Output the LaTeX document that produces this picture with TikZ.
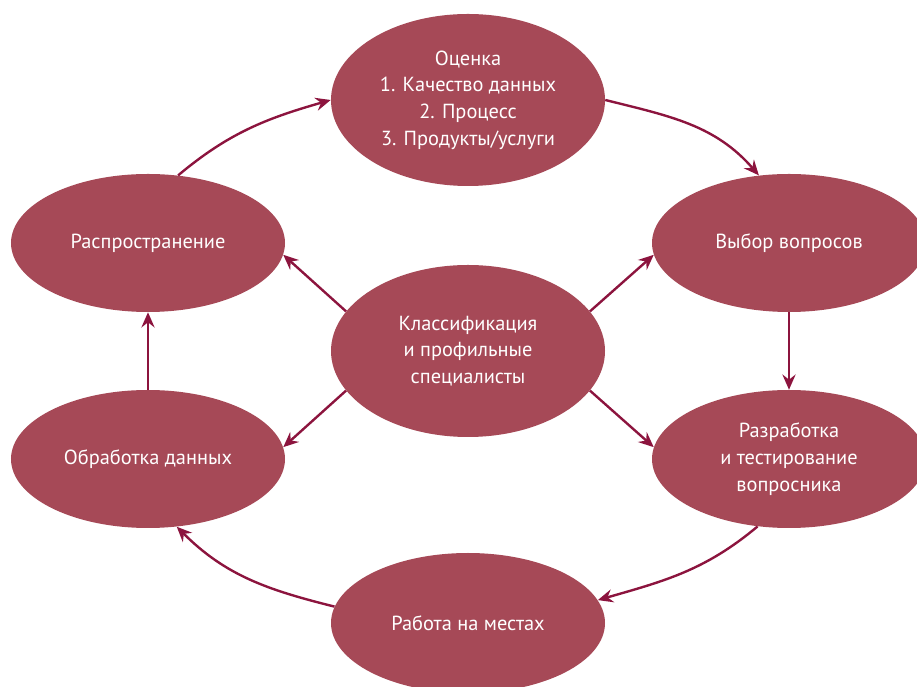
\documentclass[tikz,border=0pt]{standalone}
\usepackage{fontspec}
\setmainfont{PT Sans}
\usepackage{xcolor}
\usepackage{tikz}
\usetikzlibrary{shapes.geometric, arrows.meta}
\definecolor{cyclefill}{RGB}{166,73,87}
\definecolor{cyclearrow}{RGB}{140,20,62}
\tikzstyle{stage} = [ellipse, fill=cyclefill, text=white, inner sep=0pt, minimum width=6.85cm, minimum height=3.45cm, align=center, font=\fontsize{14.5}{19}\selectfont]
\tikzstyle{bigstage} = [stage, minimum height=4.3cm]
\tikzstyle{arrow} = [line width=1.7pt,-{Stealth[length=3.8mm,width=3.3mm,inset=1.3mm]},cyclearrow]

\begin{document}
\begin{tikzpicture}
							% Frame of the picture:
							\useasboundingbox (0,0) rectangle (22.925,17.15);
							
							% Stages:
							% Placed at coordinates, the right ones run over the edge
							\node [bigstage] (ocenka) at (11.7,14.65) {Оценка\\1. Качество данных\\2. Процесс\\3. Продукты/услуги};
							\node [stage] (vybor) at (19.725,11.075) {Выбор вопросов};
							\node [stage] (razrab) at (19.725,5.675) {Разработка\\и тестирование\\вопросника};
							\node [stage, minimum height=3.5cm] (rabota) at (11.7,1.575) {Работа на местах};
							\node [stage] (obrab) at (3.7,5.675) {Обработка данных};
							\node [stage] (rasp) at (3.7,11.075) {Распространение};
							\node [bigstage] (klass) at (11.7,8.375) {Классификация\\и профильные\\специалисты};
							
							% The cycle:
							\draw [arrow] (rasp.66) to[out=40,in=196] (ocenka.west);
							\draw [arrow] (ocenka.east) to[out=-14,in=131] (vybor.114);
							\draw [arrow] (vybor.south) -- (razrab.north);
							\draw [arrow] (razrab.245) to[out=220,in=16] (rabota.10);
							\draw [arrow] (rabota.173) to[out=166,in=315] (obrab.293);
							\draw [arrow] (obrab.north) -- (rasp.south);
							
							% From the centre:
							\foreach \from/\to/\b in {162/rasp/-5,18/vybor/185,198/obrab/5,-18/razrab/175}{%
								\draw [arrow] (klass.\from) -- (\to.\b);
							}
							\end{tikzpicture}
\end{document}
